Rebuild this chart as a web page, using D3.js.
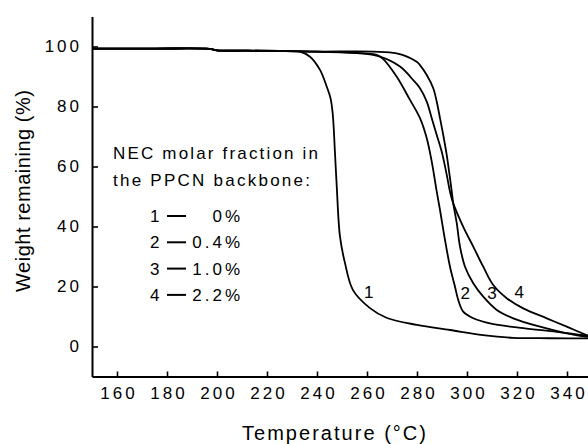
<!DOCTYPE html>
<html>
<head>
<meta charset="utf-8">
<script src="https://cdn.jsdelivr.net/npm/d3@7"></script>
<style>
  html, body { margin: 0; padding: 0; background: #fff; }
  svg { display: block; font-family: "Liberation Sans", Arial, sans-serif; }
</style>
</head>
<body>
<svg id="chart" width="588" height="444"></svg>
<script>
// valores (temperatura em °C, massa restante em %)
const temps1 = [150, 175, 197, 200, 212, 225, 233.2, 237.2, 241.2, 243.9, 245.4, 246.3, 247.2, 247.9, 249.2, 251.2, 254.4, 261.2, 268, 280, 293.2, 306.4, 318.4, 333.2, 350];
const weight1 = [99.3, 99.3, 99.2, 98.7, 98.6, 98.5, 98.3, 96.6, 92.2, 86.6, 82.8, 77.5, 64.4, 53.3, 36.6, 27.8, 18.8, 12.8, 9.5, 7.2, 5.5, 3.8, 2.9, 2.75, 2.7];

const temps2 = [150, 175, 197, 200, 212, 225, 240, 255.9, 263.9, 266.5, 271.9, 277.2, 281.2, 283.9, 285.9, 287.9, 289.2, 291.2, 293.2, 295.2, 296.5, 298.5, 302.5, 309.2, 322.5, 335.9, 350];
const weight2 = [99.3, 99.3, 99.2, 98.7, 98.6, 98.5, 98.3, 97.8, 97.2, 95.8, 89.9, 82.2, 76.1, 69.4, 61.6, 51.6, 45.5, 35.5, 26.6, 19.9, 15.5, 11.6, 9.4, 7.7, 6.1, 4.9, 3.4];

const temps3 = [150, 175, 197, 200, 212, 225, 240, 262.5, 271.9, 279.9, 281.2, 283.9, 286.5, 287.9, 289.2, 290.5, 291.9, 293.2, 293.9, 294.5, 295.9, 297.2, 299.2, 302.5, 306.5, 311.9, 318.5, 329.2, 339.9, 350];
const weight3 = [99.3, 99.3, 99.2, 98.7, 98.6, 98.5, 98.3, 98.3, 97.7, 94.9, 93.8, 90.5, 86.1, 81.6, 76.1, 70.5, 63.8, 56.1, 51.6, 47.7, 41.1, 33.3, 26.6, 21.1, 16.6, 12.2, 9.4, 6.6, 4.4, 3.0];

const temps4 = [150, 175, 197, 200, 212, 225, 240, 257.2, 265.2, 273.2, 278.5, 281.2, 283.9, 285.9, 287.9, 289.9, 291.9, 293.2, 294.5, 298.5, 302.5, 306.5, 310.5, 315.9, 322.5, 331.9, 339.9, 350];
const weight4 = [99.3, 99.3, 99.2, 98.7, 98.6, 98.5, 98.3, 97.8, 96.6, 93.3, 88.8, 86.1, 81.6, 76.1, 70.5, 64.9, 57.2, 51.6, 47.7, 39.9, 33.3, 26.6, 20.5, 16.1, 12.7, 9.4, 6.6, 3.0];

// rótulos das curvas e da legenda
const curveIds = ['1', '2', '3', '4'];
const labelTemps = [260.7, 299.3, 310, 320.9];
const labelWeights = [18.3, 17.8, 17.8, 18.3];
const fractions = ['0%', '0.4%', '1.0%', '2.2%'];
const legendTitle = ['NEC molar fraction in', 'the PPCN backbone:'];

const xTicks = [160, 180, 200, 220, 240, 260, 280, 300, 320, 340];
const xMinor = [170, 190, 210, 230, 250, 270, 290, 310, 330];
const yTicks = [0, 20, 40, 60, 80, 100];
const yMinor = [10, 30, 50, 70, 90, 110];

const svg = d3.select('#chart');

const x = d3.scaleLinear().domain([150, 350]).range([92, 592]);
const y = d3.scaleLinear().domain([-10, 110]).range([376.5, 16.5]);

// eixo x
const gx = svg.append('g').attr('transform', `translate(0,${y(-10)})`);
gx.call(d3.axisBottom(x).tickValues(xMinor).tickSize(-3).tickSizeOuter(0).tickFormat(''));
gx.call(d3.axisBottom(x).tickValues(xTicks).tickSize(-5).tickSizeOuter(0).tickPadding(10.5).tickFormat(d3.format('d')));
gx.selectAll('path.domain').attr('stroke-width', 2);
gx.selectAll('.tick line').attr('stroke-width', 1.6);
gx.selectAll('.tick text')
    .attr('fill', '#000')
    .attr('dx', 1.5)
    .style('font-size', '17px')
    .style('letter-spacing', '3px');

// eixo y
const gy = svg.append('g').attr('transform', `translate(${x(150)},0)`);
gy.call(d3.axisLeft(y).tickValues(yMinor).tickSize(-3).tickSizeOuter(0).tickFormat(''));
gy.call(d3.axisLeft(y).tickValues(yTicks).tickSize(-6).tickSizeOuter(0).tickPadding(10).tickFormat(d3.format('d')));
gy.selectAll('path.domain').attr('stroke-width', 2);
gy.selectAll('.tick line').attr('stroke-width', 1.6);
gy.selectAll('.tick text')
    .attr('fill', '#000')
    .style('font-size', '17px')
    .style('letter-spacing', '3px');

// títulos dos eixos
svg.append('text')
    .attr('x', 242).attr('y', 440)
    .attr('textLength', 184).attr('lengthAdjust', 'spacing')
    .style('font-size', '20px')
    .text('Temperature (°C)');

svg.append('text')
    .attr('transform', 'translate(30,191) rotate(-90)')
    .attr('text-anchor', 'middle')
    .attr('textLength', 202).attr('lengthAdjust', 'spacing')
    .style('font-size', '20px')
    .text('Weight remaining (%)');

// curvas
const series = [
    temps1.map((t, i) => [t, weight1[i]]),
    temps2.map((t, i) => [t, weight2[i]]),
    temps3.map((t, i) => [t, weight3[i]]),
    temps4.map((t, i) => [t, weight4[i]])
];

const line = d3.line()
    .x(d => x(d[0]))
    .y(d => y(d[1]))
    .curve(d3.curveCatmullRom.alpha(0.5));

svg.append('g').selectAll('path')
    .data(series)
    .enter()
    .append('path')
    .attr('d', line)
    .attr('fill', 'none')
    .attr('stroke', '#000')
    .attr('stroke-width', 1.8)
    .attr('stroke-linejoin', 'round');

// números junto das curvas
svg.append('g').selectAll('text')
    .data(curveIds)
    .enter()
    .append('text')
    .attr('x', (d, i) => x(labelTemps[i]))
    .attr('y', (d, i) => y(labelWeights[i]))
    .attr('text-anchor', 'middle')
    .attr('dy', '0.35em')
    .style('font-size', '17px')
    .text(d => d);

// legenda
svg.append('g').selectAll('text')
    .data(legendTitle)
    .enter()
    .append('text')
    .attr('x', 113)
    .attr('y', (d, i) => 159 + i * 27)
    .attr('textLength', (d, i) => i === 0 ? 205 : 197)
    .attr('lengthAdjust', 'spacing')
    .style('font-size', '17px')
    .text(d => d);

const rows = svg.append('g').selectAll('g')
    .data(curveIds)
    .enter()
    .append('g')
    .attr('transform', (d, i) => `translate(0,${216 + i * 26.3})`);

rows.append('text')
    .attr('x', 150)
    .attr('dy', '0.35em')
    .style('font-size', '17px')
    .text(d => d);

rows.append('line')
    .attr('x1', 167).attr('x2', 186)
    .attr('stroke', '#000')
    .attr('stroke-width', 2);

rows.append('text')
    .attr('x', 243)
    .attr('dy', '0.35em')
    .attr('text-anchor', 'end')
    .style('font-size', '17px')
    .style('letter-spacing', '3px')
    .text((d, i) => fractions[i]);
</script>
</body>
</html>
